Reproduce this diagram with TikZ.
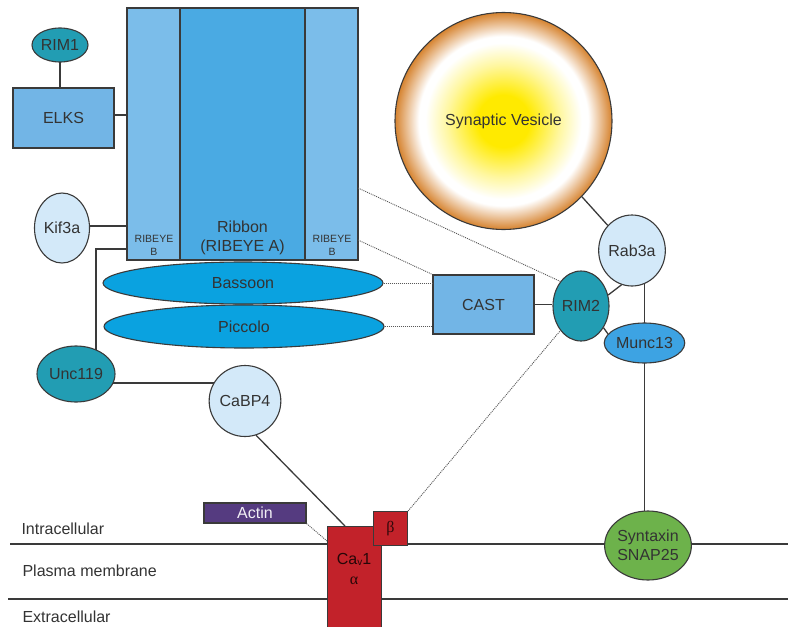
\documentclass[tikz,border=0pt]{standalone}
\usepackage{fontspec}
\setmainfont{Liberation Sans}
\newfontfamily\greekfont{Liberation Serif}
\usetikzlibrary{backgrounds,shapes.geometric}
\definecolor{lineC}{HTML}{3A3A3A}
\definecolor{txtC}{HTML}{333333}
\definecolor{ribAC}{HTML}{4AAAE3}
\definecolor{ribBC}{HTML}{7BBDEA}
\definecolor{elksC}{HTML}{72B5E6}
\definecolor{bassC}{HTML}{0AA2E0}
\definecolor{tealC}{HTML}{229DB3}
\definecolor{paleC}{HTML}{D3E9F9}
\definecolor{muncC}{HTML}{3DA3E3}
\definecolor{actC}{HTML}{553B80}
\definecolor{cavC}{HTML}{C2222A}
\definecolor{synC}{HTML}{6DB24B}
\definecolor{vy}{HTML}{FFEA00}
\definecolor{vpale}{HTML}{FFF7A0}
\definecolor{vo}{HTML}{D6832F}
\pgfdeclareradialshading{vesicleshade}{\pgfpoint{0bp}{0bp}}{color(0bp)=(vy); color(6bp)=(vy); color(13bp)=(vpale); color(18bp)=(white); color(19.5bp)=(white); color(25bp)=(vo); color(50bp)=(vo)}
\begin{document}
\begin{tikzpicture}[x=1pt,y=-1pt,
  font=\fontsize{16}{19}\selectfont,
  base/.style={draw=lineC, line width=1.1pt, inner sep=0pt, text=txtC},
  box/.style={base, rectangle},
  oval/.style={base, ellipse},
  conn/.style={draw=lineC, line width=1.3pt},
  dotconn/.style={draw=lineC!85, line width=0.9pt, dash pattern=on 1pt off 1pt},
  memb/.style={draw=lineC, line width=1.1pt},
  small/.style={font=\fontsize{10.5}{12.5}\selectfont, text=txtC, align=center},
  lab/.style={anchor=west, text=txtC}]
\useasboundingbox (0,0) rectangle (788,627);

% ribbon
\node[box, fill=ribBC, minimum width=53pt, minimum height=252pt] (ribL) at (153.5,134) {};
\node[box, fill=ribBC, minimum width=53pt, minimum height=252pt] (ribR) at (331.5,134) {};
\node[box, fill=ribAC, minimum width=125pt, minimum height=252pt] (ribA) at (242.5,134) {};
\node[align=center, text=txtC] (ribtxt) at (242.5,238) {Ribbon\\(RIBEYE A)};
\node[small] (rbl) at (154,245.5) {RIBEYE\\B};
\node[small] (rbr) at (332,245.5) {RIBEYE\\B};

% left column
\node[oval, fill=tealC, minimum width=56pt, minimum height=34pt] (rim1) at (60,45) {RIM1};
\node[box, fill=elksC, minimum width=101pt, minimum height=60pt] (elks) at (63.5,118) {ELKS};
\node[oval, fill=paleC, minimum width=55pt, minimum height=70pt] (kif) at (62,228) {Kif3a};
\node[oval, fill=tealC, minimum width=78pt, minimum height=56pt] (unc) at (76,374) {Unc119};
\node[oval, fill=paleC, minimum width=63pt, minimum height=71pt] (cabp) at (245,401) {CaBP4};

% bassoon / piccolo
\node[oval, fill=bassC, minimum width=280pt, minimum height=42pt] (bass) at (243,283) {Bassoon};
\node[oval, fill=bassC, minimum width=280pt, minimum height=43pt] (picc) at (244,326.5) {Piccolo};

% right side
\node[circle, draw=lineC, line width=1.1pt, shading=vesicleshade, minimum size=217pt, inner sep=0pt, text=txtC] (ves) at (503.5,121) {Synaptic Vesicle};
\node[box, fill=elksC, minimum width=101pt, minimum height=59pt] (cast) at (483.5,304.5) {CAST};
\node[oval, fill=tealC, minimum width=56pt, minimum height=70pt] (rim2) at (581,306) {RIM2};
\node[oval, fill=paleC, minimum width=56pt, minimum height=71pt] (rab) at (632,250.5) {Rab3a};
\node[oval, fill=muncC, minimum width=73pt, minimum height=40pt] (munc) at (644.5,343) {Munc13};
\node[oval, fill=synC, minimum width=79pt, minimum height=69pt, align=center] (syn) at (648,545.5) {Syntaxin\\SNAP25};

% channel
\node[box, fill=actC, minimum width=102pt, minimum height=20pt, text=white!92!actC] (actin) at (255,513) {Actin};
\node[box, fill=cavC, minimum width=54pt, minimum height=102pt, anchor=north west] (cav) at (327,526) {};
\node[align=center, text=black!80!cavC] (cavtxt) at (354,569) {Ca\raisebox{-1pt}{\fontsize{10}{10}\selectfont v}1\\[1pt]{\greekfont α}};
\node[box, fill=cavC, minimum size=34pt, anchor=north west, text=black!75!cavC] (beta) at (373,511) {\greekfont β};

% labels
\node[lab] (intra) at (18,529) {Intracellular};
\node[lab] (plasma) at (19,571) {Plasma membrane};
\node[lab] (extra) at (19,617) {Extracellular};

% helper coordinates
\coordinate (ua) at (127,249);
\coordinate (ub) at (96,249);
\coordinate (uc) at (96,352);
\coordinate (ucab1) at (110,383);
\coordinate (ucab2) at (220,383);
\coordinate (cavtop) at (345,526);
\coordinate (cavleft) at (327,541);
\coordinate (rr1) at (358,188);
\coordinate (rr2) at (358,240);
\coordinate (m1l) at (10,544);
\coordinate (m1r) at (788,544);
\coordinate (m2l) at (8,599);
\coordinate (m2r) at (788,599);

\begin{scope}[on background layer]
\draw[memb] (m1l) -- (m1r);
\draw[memb] (m2l) -- (m2r);
\draw[conn] (rim1.center) -- (rim1.center |- elks.center);
\draw[conn] (elks.east |- 0,115) -- (ribL.west |- 0,115);
\draw[conn] (kif.east |- 0,226) -- (ribL.west |- 0,226);
\draw[conn] (ua) -- (ub) -- (uc);
\draw[conn] (ucab1) -- (ucab2);
\draw[conn] (munc.center |- rab.center) -- (munc.center);
\draw[conn] (munc.center) -- (munc.center |- syn.center);
\end{scope}
\draw[conn] (cabp.-72) -- (cavtop);
\draw[conn] (ves.-44) -- (rab.134);
\draw[conn] (cast.east) -- (rim2.west |- cast.east);
\draw[conn] (rim2.22) -- (rab.-107);
\draw[conn] (rim2.-44) -- (munc.166);
\draw[dotconn] (bass.east) -- (cast.west |- bass.east);
\draw[dotconn] (picc.east) -- (cast.west |- picc.east);
\draw[dotconn] (rr1) -- (rim2.130);
\draw[dotconn] (rr2) -- (cast.north west);
\draw[dotconn] (actin.south east) -- (cavleft);
\draw[dotconn] (beta.north east) -- (rim2.-130);
\end{tikzpicture}
\end{document}
